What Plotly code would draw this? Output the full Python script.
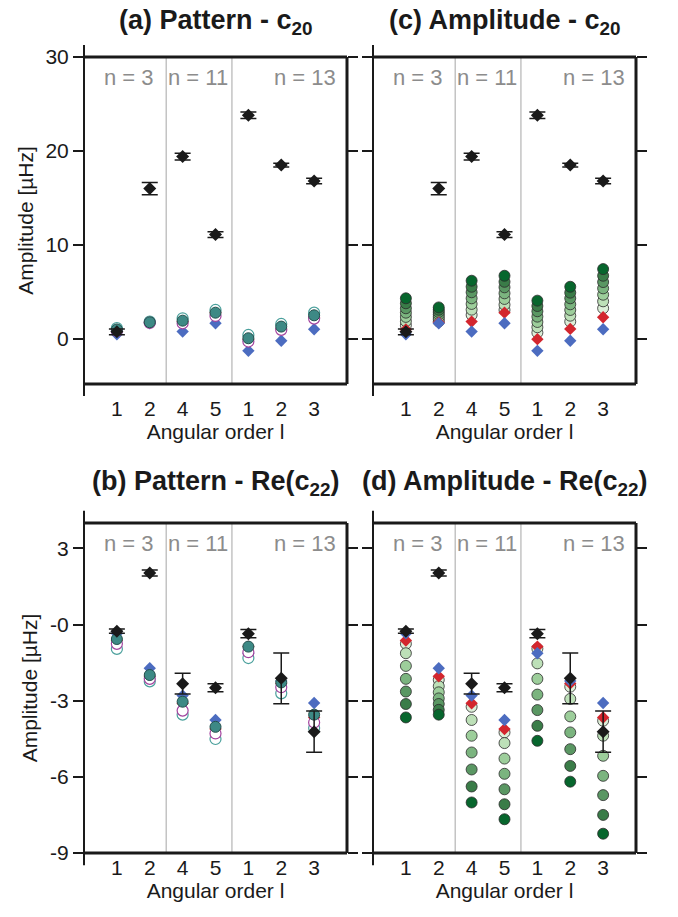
import plotly.graph_objects as go

# ---------------- data ----------------
orders = [1, 2, 4, 5, 1, 2, 3]          # angular order l of each mode
xpos = [1, 2, 3, 4, 5, 6, 7]            # slot of each mode on the axis
groups = ["n = 3", "n = 11", "n = 13"]

# c20 (top row)
c20_obs = [0.75, 16.0, 19.4, 11.1, 23.8, 18.5, 16.8]
c20_obs_err = [0.3, 0.65, 0.35, 0.3, 0.35, 0.2, 0.3]
c20_blue = [0.5, 1.66, 0.78, 1.67, -1.27, -0.2, 1.03]
c20_red = [1.0, 1.75, 1.84, 2.79, -0.03, 1.06, 2.3]
c20_teal_fill = [1.0, 1.77, 1.94, 2.79, 0.07, 1.31, 2.51]
c20_teal_open = [1.15, 1.85, 2.19, 3.08, 0.42, 1.59, 2.79]
c20_purple_open = [0.85, 1.7, 1.66, 2.44, -0.28, 0.96, 2.16]
c20_amp = [  # lightest -> darkest
    [1.45, 1.85, 2.55, 3.08, 0.67, 1.84, 3.26],
    [1.88, 2.10, 3.11, 3.64, 1.24, 2.47, 4.00],
    [2.34, 2.35, 3.72, 4.25, 1.80, 3.08, 4.70],
    [2.79, 2.60, 4.32, 4.85, 2.37, 3.68, 5.38],
    [3.26, 2.85, 4.96, 5.49, 2.94, 4.32, 6.05],
    [3.79, 3.10, 5.55, 6.08, 3.50, 4.92, 6.72],
    [4.32, 3.35, 6.19, 6.72, 4.07, 5.55, 7.43],
]

# Re(c22) (bottom row)
c22_obs = [-0.26, 2.03, -2.33, -2.49, -0.36, -2.12, -4.22]
c22_obs_err = [0.08, 0.12, 0.41, 0.16, 0.16, 1.0, 0.81]
c22_blue = [-0.35, -1.72, -2.80, -3.76, -1.13, -2.22, -3.09]
c22_red = [-0.63, -2.04, -3.10, -4.12, -0.87, -2.32, -3.66]
c22_teal_fill = [-0.57, -1.99, -3.04, -4.03, -0.87, -2.28, -3.55]
c22_teal_open = [-0.96, -2.24, -3.55, -4.51, -1.32, -2.71, -4.08]
c22_purple_open = [-0.76, -2.14, -3.39, -4.29, -1.09, -2.47, -3.86]
c22_amp = [  # lightest -> darkest
    [-0.76, -2.18, -3.24, -4.25, -0.95, -2.45, -3.79],
    [-1.13, -2.43, -3.76, -4.67, -1.53, -2.93, -4.38],
    [-1.63, -2.67, -4.38, -5.28, -2.14, -3.62, -5.17],
    [-2.14, -2.91, -5.04, -5.88, -2.76, -4.25, -5.96],
    [-2.64, -3.13, -5.71, -6.49, -3.37, -4.91, -6.72],
    [-3.13, -3.36, -6.38, -7.08, -3.99, -5.57, -7.50],
    [-3.66, -3.55, -7.01, -7.67, -4.58, -6.19, -8.24],
]

# ---------------- styles ----------------
FONT = "Liberation Sans, Arial, Helvetica, sans-serif"
INK = "#1a1a1a"
GREY_TXT = "#8c8c8c"
BLUE = "#4c6cc0"
RED = "#d3262e"
TEAL = "#3d8985"
TEAL_LINE = "#4aa09c"
PURPLE = "#a2429e"
GREENS = ["#dcefd8", "#bde0b8", "#9dce9b", "#7bb47f", "#5a9763", "#3a7c48", "#07662d"]
TICK_SIZE = 21
TITLE_SIZE = 27

fig = go.Figure()

def diamonds(xa, ya, y, color, size=10, err=None):
    kw = {}
    if err is not None:
        kw["error_y"] = dict(type="data", array=err, color=INK, thickness=1.5, width=8)
    fig.add_trace(go.Scatter(
        x=xpos, y=y, xaxis=xa, yaxis=ya, mode="markers",
        marker=dict(symbol="diamond", size=size, color=color,
                    line=dict(width=0)),
        hoverinfo="skip", **kw))

def circles(xa, ya, y, fill, line, lw=1.2, size=11):
    fig.add_trace(go.Scatter(
        x=xpos, y=y, xaxis=xa, yaxis=ya, mode="markers",
        marker=dict(symbol="circle", size=size, color=fill,
                    line=dict(width=lw, color=line)),
        hoverinfo="skip"))

# pattern panels: (a) top-left, (b) bottom-left
for xa, ya, obs, err, blue, red, tf, to, po in [
    ("x", "y", c20_obs, c20_obs_err, c20_blue, c20_red, c20_teal_fill, c20_teal_open, c20_purple_open),
    ("x3", "y3", c22_obs, c22_obs_err, c22_blue, c22_red, c22_teal_fill, c22_teal_open, c22_purple_open),
]:
    diamonds(xa, ya, blue, BLUE, size=9.5)
    diamonds(xa, ya, red, RED, size=9.5)
    circles(xa, ya, to, "white", TEAL_LINE)
    circles(xa, ya, po, "white", PURPLE)
    circles(xa, ya, tf, TEAL, "#24504d", lw=1)
    diamonds(xa, ya, obs, INK, size=10, err=err)

# amplitude panels: (c) top-right, (d) bottom-right
for xa, ya, obs, err, blue, red, amp in [
    ("x2", "y2", c20_obs, c20_obs_err, c20_blue, c20_red, c20_amp),
    ("x4", "y4", c22_obs, c22_obs_err, c22_blue, c22_red, c22_amp),
]:
    for shade, vals in zip(GREENS, amp):
        circles(xa, ya, vals, shade, "#2b2b2b", lw=0.8)
    diamonds(xa, ya, red, RED, size=9.5)
    diamonds(xa, ya, blue, BLUE, size=9.5)
    diamonds(xa, ya, obs, INK, size=10, err=err)

# ---------------- axes ----------------
W, H = 678, 917
colx = [(84 / W, 347 / W), (373 / W, 636 / W)]
rowy = [(1 - 384 / H, 1 - 57 / H), (1 - 853 / H, 1 - 523 / H)]
title_gap = [35, 40]   # px between frame top and title centre, per row
label_pad = [6, 0]     # spacing between frame bottom and x tick labels, per row

panels = [
    # xaxis, yaxis, col, row, title, yrange, ticks, ticktext, show y labels
    ("xaxis", "yaxis", 0, 0, "<b>(a) Pattern - c<sub>20</sub></b>", [-4.8, 30], [0, 10, 20, 30], ["0", "10", "20", "30"], True),
    ("xaxis2", "yaxis2", 1, 0, "<b>(c) Amplitude - c<sub>20</sub></b>", [-4.8, 30], [0, 10, 20, 30], ["0", "10", "20", "30"], False),
    ("xaxis3", "yaxis3", 0, 1, "<b>(b) Pattern - Re(c<sub>22</sub>)</b>", [-9, 4], [-9, -6, -3, 0, 3], ["-9", "-6", "-3", "-0", "3"], True),
    ("xaxis4", "yaxis4", 1, 1, "<b>(d) Amplitude - Re(c<sub>22</sub>)</b>", [-9, 4], [-9, -6, -3, 0, 3], ["-9", "-6", "-3", "-0", "3"], False),
]

layout = dict(
    width=W, height=H, margin=dict(l=0, r=0, t=0, b=0),
    paper_bgcolor="white", plot_bgcolor="white", showlegend=False,
    font=dict(family=FONT, size=TICK_SIZE, color=INK),
)
annotations = []
shapes = []
for xname, yname, c, r, title, yr, tv, tt, showy in panels:
    xref = "x" + xname[5:]
    yref = "y" + yname[5:]
    xdict = dict(
        domain=list(colx[c]), anchor=yref, range=[0, 8],
        tickmode="array", tickvals=xpos, ticktext=[str(o) for o in orders],
        showline=False, showgrid=False, zeroline=False,
        tickfont=dict(size=TICK_SIZE), automargin=False,
        title=dict(text="Angular order l", font=dict(size=TICK_SIZE), standoff=2),
    )
    if label_pad[r] > 0:
        xdict.update(ticks="outside", ticklen=label_pad[r], tickcolor="rgba(0,0,0,0)")
    else:
        xdict.update(ticks="")
    layout[xname] = xdict
    ydict = dict(
        domain=list(rowy[r]), anchor=xref, range=yr,
        tickmode="array", tickvals=tv, ticktext=tt,
        ticks="outside", ticklen=10, tickwidth=1.5, tickcolor=INK,
        mirror="ticks", showline=False, showgrid=False, zeroline=False,
        showticklabels=showy, tickfont=dict(size=TICK_SIZE), automargin=False,
    )
    if showy:
        ydict["title"] = dict(text="Amplitude [µHz]", font=dict(size=TICK_SIZE), standoff=6)
    layout[yname] = ydict

    xd, yd = xref + " domain", yref + " domain"
    # frame: top, right, bottom edges
    for x0, y0, x1, y1 in [(0, 1, 1, 1), (1, 0, 1, 1), (0, 0, 1, 0)]:
        shapes.append(dict(type="line", xref=xd, yref=yd, x0=x0, y0=y0, x1=x1, y1=y1,
                           line=dict(color=INK, width=3), layer="above"))
    # left spine, running a little past the frame
    shapes.append(dict(type="line", xref=xd, yref=yd, x0=0, y0=-0.037, x1=0, y1=1.037,
                       line=dict(color=INK, width=2), layer="above"))
    # radial-order separators
    for xs in (2.5, 4.5):
        shapes.append(dict(type="line", xref=xref, yref=yd, x0=xs, y0=0, x1=xs, y1=1,
                           line=dict(color="#b4b4b4", width=1.2), layer="below"))
    # group labels
    for gx, txt in zip((2.2, 4.45, 7.72), groups):
        annotations.append(dict(xref=xref, yref=yd, x=gx, y=0.937, text=txt, showarrow=False,
                                xanchor="right", yanchor="middle",
                                font=dict(size=22, color=GREY_TXT)))
    # panel title
    x_mid = (colx[c][0] + colx[c][1]) / 2
    y_top = rowy[r][1]
    annotations.append(dict(xref="paper", yref="paper", x=x_mid, y=y_top + title_gap[r] / H,
                            text=title, showarrow=False, xanchor="center", yanchor="middle",
                            font=dict(size=TITLE_SIZE, color=INK)))

layout["annotations"] = annotations
layout["shapes"] = shapes
fig.update_layout(**layout)
fig.write_html("out.html")
